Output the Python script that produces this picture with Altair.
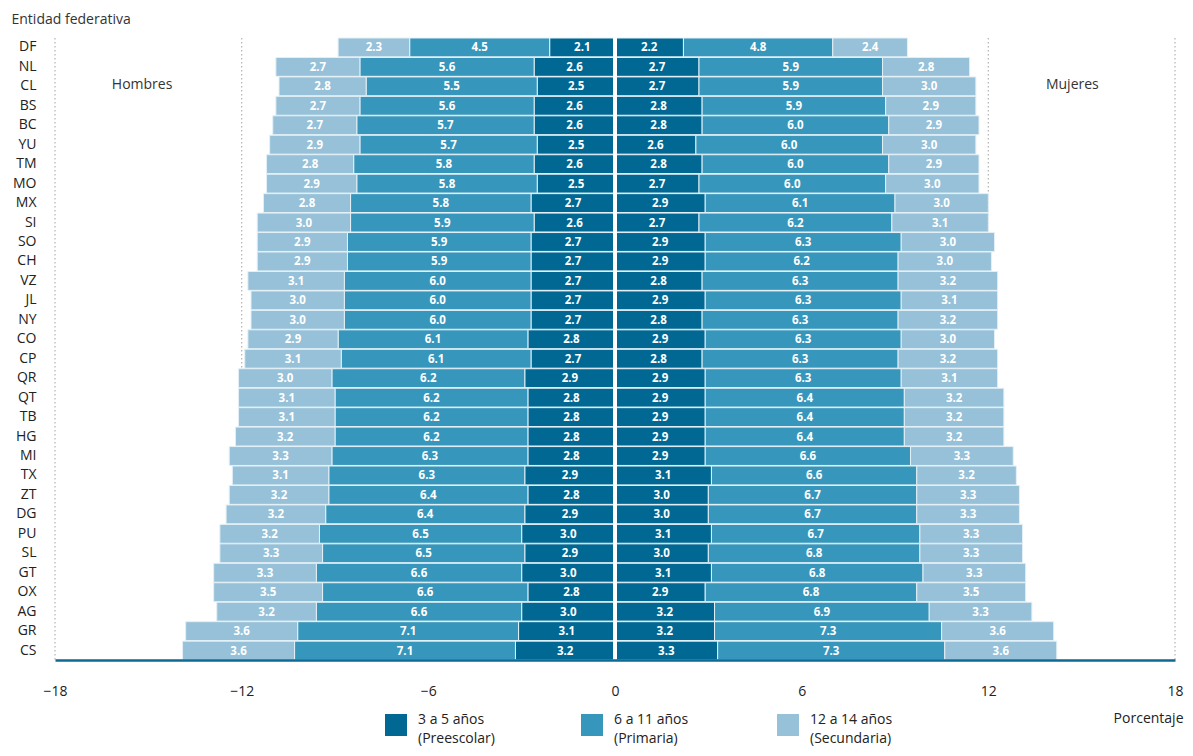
import altair as alt
import pandas as pd

states = ["DF", "NL", "CL", "BS", "BC", "YU", "TM", "MO", "MX", "SI", "SO", "CH", "VZ", "JL", "NY", "CO",
          "CP", "QR", "QT", "TB", "HG", "MI", "TX", "ZT", "DG", "PU", "SL", "GT", "OX", "AG", "GR", "CS"]

# Hombres
h_pre = [2.1, 2.6, 2.5, 2.6, 2.6, 2.5, 2.6, 2.5, 2.7, 2.6, 2.7, 2.7, 2.7, 2.7, 2.7, 2.8,
         2.7, 2.9, 2.8, 2.8, 2.8, 2.8, 2.9, 2.8, 2.9, 3.0, 2.9, 3.0, 2.8, 3.0, 3.1, 3.2]
h_pri = [4.5, 5.6, 5.5, 5.6, 5.7, 5.7, 5.8, 5.8, 5.8, 5.9, 5.9, 5.9, 6.0, 6.0, 6.0, 6.1,
         6.1, 6.2, 6.2, 6.2, 6.2, 6.3, 6.3, 6.4, 6.4, 6.5, 6.5, 6.6, 6.6, 6.6, 7.1, 7.1]
h_sec = [2.3, 2.7, 2.8, 2.7, 2.7, 2.9, 2.8, 2.9, 2.8, 3.0, 2.9, 2.9, 3.1, 3.0, 3.0, 2.9,
         3.1, 3.0, 3.1, 3.1, 3.2, 3.3, 3.1, 3.2, 3.2, 3.2, 3.3, 3.3, 3.5, 3.2, 3.6, 3.6]
# Mujeres
m_pre = [2.2, 2.7, 2.7, 2.8, 2.8, 2.6, 2.8, 2.7, 2.9, 2.7, 2.9, 2.9, 2.8, 2.9, 2.8, 2.9,
         2.8, 2.9, 2.9, 2.9, 2.9, 2.9, 3.1, 3.0, 3.0, 3.1, 3.0, 3.1, 2.9, 3.2, 3.2, 3.3]
m_pri = [4.8, 5.9, 5.9, 5.9, 6.0, 6.0, 6.0, 6.0, 6.1, 6.2, 6.3, 6.2, 6.3, 6.3, 6.3, 6.3,
         6.3, 6.3, 6.4, 6.4, 6.4, 6.6, 6.6, 6.7, 6.7, 6.7, 6.8, 6.8, 6.8, 6.9, 7.3, 7.3]
m_sec = [2.4, 2.8, 3.0, 2.9, 2.9, 3.0, 2.9, 3.0, 3.0, 3.1, 3.0, 3.0, 3.2, 3.1, 3.2, 3.0,
         3.2, 3.1, 3.2, 3.2, 3.2, 3.3, 3.2, 3.3, 3.3, 3.3, 3.3, 3.3, 3.5, 3.3, 3.6, 3.6]

cat_age = ["3 a 5 años", "6 a 11 años", "12 a 14 años"]
cat_level = ["(Preescolar)", "(Primaria)", "(Secundaria)"]
cats = [a + " " + b for a, b in zip(cat_age, cat_level)]
colors = ["#006893", "#3796bb", "#96c1d8"]
sides = ["Hombres", "Mujeres"]
tick_vals = [-18, -12, -6, 0, 6, 12, 18]
grid_vals = [-18, -12, -6, 6, 12, 18]

rows = []
for side, sign, series in [("Hombres", -1, [h_pre, h_pri, h_sec]), ("Mujeres", 1, [m_pre, m_pri, m_sec])]:
    for ci, (cat, vals) in enumerate(zip(cats, series)):
        for st, v in zip(states, vals):
            rows.append(dict(state=st, side=side, cat=cat, ord=ci, value=v, sv=sign * v))
df = pd.DataFrame(rows)
leg_df = pd.DataFrame({"cat": cats, "l1": cat_age, "l2": cat_level})

COND = "Liberation Sans Narrow, Open Sans, sans-serif"
REG = "Open Sans, sans-serif"

color_scale = alt.Scale(domain=cats, range=colors)
xscale = alt.Scale(domain=[-18, 18], nice=False, zero=False)
xaxis = alt.Axis(values=tick_vals, grid=False, ticks=False, domainColor="#0e6995", domainWidth=2.5,
                 labelFontSize=14, labelColor="#222", labelPadding=24, labelFont=COND,
                 labelFlush=False, labelOverlap=False,
                 titleFont=COND, titleFontSize=14, titleFontWeight="normal", titleColor="#222",
                 titleX=1128, titleY=62, titleAlign="right", titleBaseline="alphabetic", zindex=1)
yscale = alt.Scale(paddingInner=0.03, paddingOuter=0)
yaxis = alt.Axis(ticks=False, domain=False, grid=False, labelFontSize=14, labelColor="#222",
                 labelPadding=19, labelFont=REG, titleAngle=0, titleX=-44, titleY=-15,
                 titleAlign="left", titleBaseline="alphabetic", titleFontWeight="normal",
                 titleFontSize=14, titleColor="#333", titleFont=REG)

def X(field):
    return alt.X(field, scale=xscale, axis=xaxis, title="Porcentaje")

def Y():
    return alt.Y("state:N", sort=states, scale=yscale, axis=yaxis, title="Entidad federativa")

base = alt.Chart(df).transform_stack(
    stack="sv", groupby=["state", "side"], as_=["x0", "x1"],
    sort=[alt.SortField("ord", order="ascending")]
).transform_calculate(mid="(datum.x0 + datum.x1) / 2")

grid = alt.Chart(pd.DataFrame({"g": grid_vals})).mark_rule(
    color="#b8b8b8", strokeDash=[1.5, 2.5], strokeWidth=1.3
).encode(x=X("g:Q"))

bars = base.mark_bar(stroke="#e4f0f6", strokeWidth=1).encode(
    x=X("x0:Q"),
    x2="x1:Q",
    y=Y(),
    color=alt.Color("cat:N", scale=color_scale, legend=None),
)

center = alt.Chart(pd.DataFrame({"c": [0]})).mark_rule(color="white", strokeWidth=4).encode(x=X("c:Q"))

labels = base.mark_text(color="white", fontWeight="bold", fontSize=11.5, font=REG, dy=1).encode(
    x=X("mid:Q"),
    y=Y(),
    text=alt.Text("value:Q", format=".1f"),
)

side_df = pd.DataFrame({"side": sides, "pos": [-15.2, 14.7]})
side_text = alt.Chart(side_df).mark_text(fontSize=14, color="#333", font=REG).encode(
    x=X("pos:Q"), y=alt.value(47), text="side:N"
)

main = alt.layer(grid, bars, center, labels, side_text)

# legend drawn as marks with its own point scale
leg_x = alt.X("cat:N", sort=cats, scale=alt.Scale(domain=cats, range=[341, 733], padding=0), axis=None)
leg_sq = alt.Chart(leg_df).mark_square(size=484, opacity=1, filled=True, strokeWidth=0).encode(
    x=leg_x, y=alt.value(687), color=alt.Color("cat:N", scale=color_scale, legend=None)
)
leg_txt = alt.Chart(leg_df).transform_calculate(lines="[datum.l1, datum.l2]").mark_text(
    align="left", baseline="top", lineHeight=19, dx=22, fontSize=14, font=COND, color="#222"
).encode(x=leg_x, y=alt.value(675), text="lines:N")
legend = alt.layer(leg_sq, leg_txt)

chart = alt.layer(main, legend).resolve_scale(x="independent").properties(
    width=1120, height=622,
    padding={"left": 47, "top": 30, "right": 10, "bottom": 88},
    autosize=alt.AutoSizeParams(type="none"),
).configure_view(stroke=None)

chart.save("out.html", embed_options={"renderer": "svg", "actions": False})
